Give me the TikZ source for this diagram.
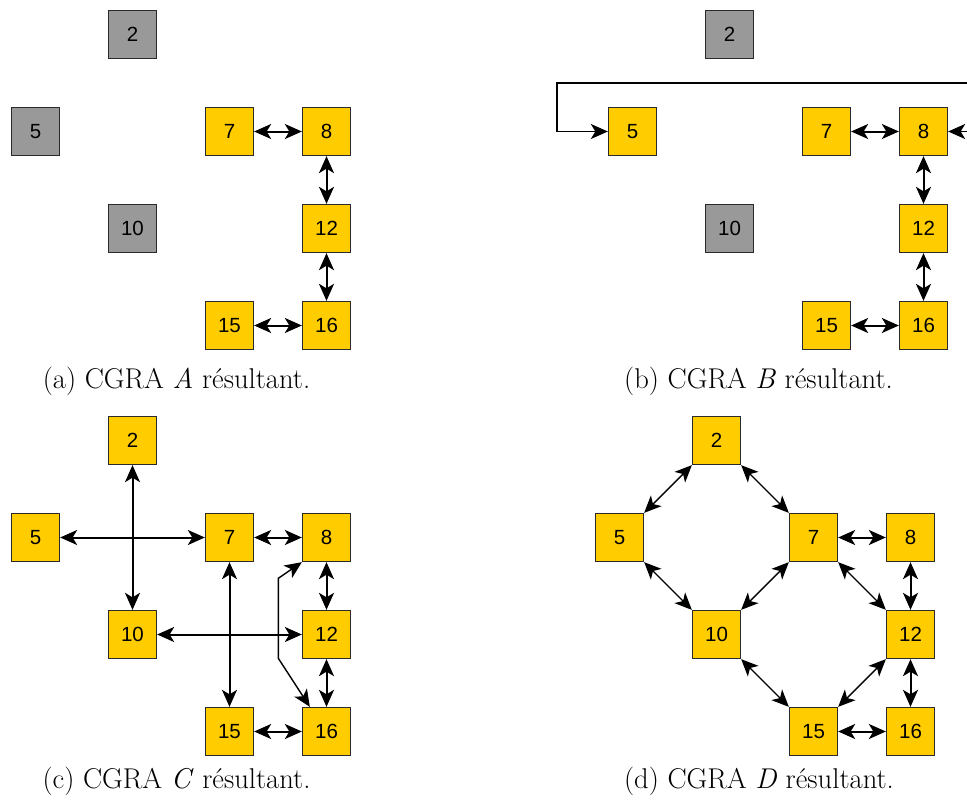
\documentclass[tikz,border=0pt]{standalone}
\usepackage{fontspec}
\newfontfamily\numfont{Liberation Sans}
\usetikzlibrary{arrows.meta,calc}
\definecolor{cellon}{HTML}{FFCC00}
\definecolor{celloff}{HTML}{999999}
\definecolor{celledge}{HTML}{2A2A2A}
\begin{document}
\begin{tikzpicture}[x=1pt,y=1pt,
  cell/.style={draw=celledge,line width=1.3pt,minimum size=48pt,inner sep=0pt,
    font=\numfont\fontsize{20.5}{22}\selectfont},
  on/.style={cell,fill=cellon},
  off/.style={cell,fill=celloff},
  ctip/.tip={Stealth[length=17pt,width=15pt,inset=4.5pt]},
  link/.style={line width=2pt,ctip-ctip},
  thinlink/.style={line width=1.4pt,ctip-ctip},
  inlink/.style={line width=1.6pt,-ctip},
  subcap/.style={anchor=base,font=\fontsize{28.6}{33}\selectfont,inner sep=0pt}
]
\useasboundingbox (0,0) rectangle (967,-801);
\clip (0,0) rectangle (967,-801);

% ---------- (a) ----------
\node[off] (a2) at (132.5,-34.5) {2};
\node[off] (a5) at (35.5,-131.5) {5};
\node[on] (a7) at (229.5,-131.5) {7};
\node[on] (a8) at (326.5,-131.5) {8};
\node[off] (a10) at (132.5,-228.5) {10};
\node[on] (a12) at (326.5,-228.5) {12};
\node[on] (a15) at (229.5,-325.5) {15};
\node[on] (a16) at (326.5,-325.5) {16};
\draw[link] (a7) -- (a8);
\draw[link] (a8) -- (a12);
\draw[link] (a12) -- (a16);
\draw[link] (a15) -- (a16);
\node[subcap] (capa) at (176.5,-388) {(a) CGRA \textit{A} résultant.};

% ---------- (b) ----------
\node[off] (b2) at (729.5,-34.5) {2};
\node[on] (b5) at (632.5,-131.5) {5};
\node[on] (b7) at (826.5,-131.5) {7};
\node[on] (b8) at (923.5,-131.5) {8};
\node[off] (b10) at (729.5,-228.5) {10};
\node[on] (b12) at (923.5,-228.5) {12};
\node[on] (b15) at (826.5,-325.5) {15};
\node[on] (b16) at (923.5,-325.5) {16};
\draw[link] (b7) -- (b8);
\draw[link] (b8) -- (b12);
\draw[link] (b12) -- (b16);
\draw[link] (b15) -- (b16);
\coordinate (bTopR) at (970,-83);
\coordinate (bTopL) at (556.7,-83);
\coordinate (bMidR) at (970,-131.5);
\draw[inlink] (bTopR) -- (bTopL) |- (b5.west);
\draw[inlink] (bMidR) -- (b8.east);
\node[subcap] (capb) at (758.5,-388) {(b) CGRA \textit{B} résultant.};

% ---------- (c) ----------
\node[on] (c2) at (132.5,-440.5) {2};
\node[on] (c5) at (35.5,-537.5) {5};
\node[on] (c7) at (229.5,-537.5) {7};
\node[on] (c8) at (326.5,-537.5) {8};
\node[on] (c10) at (132.5,-634.5) {10};
\node[on] (c12) at (326.5,-634.5) {12};
\node[on] (c15) at (229.5,-731.5) {15};
\node[on] (c16) at (326.5,-731.5) {16};
\draw[link] (c2) -- (c10);
\draw[link] (c5) -- (c7);
\draw[link] (c7) -- (c8);
\draw[link] (c7) -- (c15);
\draw[link] (c10) -- (c12);
\draw[link] (c8) -- (c12);
\draw[link] (c12) -- (c16);
\draw[link] (c15) -- (c16);
\coordinate (cBendLo) at (278.3,-658.3);
\coordinate (cBendHi) at (278.3,-578.3);
\draw[thinlink] ($(c16.north west)+(8,0)$) -- (cBendLo) -- (cBendHi) -- (c8.south west);
\node[subcap] (capc) at (176.5,-788) {(c) CGRA \textit{C} résultant.};

% ---------- (d) ----------
\node[on] (d2) at (716.5,-440.5) {2};
\node[on] (d5) at (619.5,-537.5) {5};
\node[on] (d7) at (813.5,-537.5) {7};
\node[on] (d8) at (910.5,-537.5) {8};
\node[on] (d10) at (716.5,-634.5) {10};
\node[on] (d12) at (910.5,-634.5) {12};
\node[on] (d15) at (813.5,-731.5) {15};
\node[on] (d16) at (910.5,-731.5) {16};
\draw[thinlink] (d2.south west) -- (d5.north east);
\draw[thinlink] (d2.south east) -- (d7.north west);
\draw[thinlink] (d5.south east) -- (d10.north west);
\draw[thinlink] (d10.north east) -- (d7.south west);
\draw[thinlink] (d7.south east) -- (d12.north west);
\draw[thinlink] (d10.south east) -- (d15.north west);
\draw[thinlink] (d12.south west) -- (d15.north east);
\draw[link] (d7) -- (d8);
\draw[link] (d8) -- (d12);
\draw[link] (d12) -- (d16);
\draw[link] (d15) -- (d16);
\node[subcap] (capd) at (759,-788) {(d) CGRA \textit{D} résultant.};
\end{tikzpicture}
\end{document}
